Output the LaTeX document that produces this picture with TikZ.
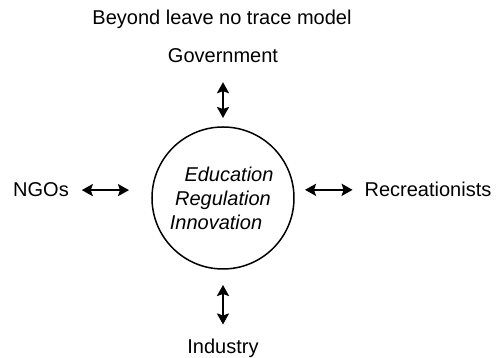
\documentclass[tikz,border=0pt]{standalone}
\usepackage{fontspec}
\setmainfont{Liberation Sans}
\usetikzlibrary{arrows.meta}
\tikzset{
	actor/.style = {inner sep=0pt, outer sep=0pt, anchor=base,
		font=\fontsize{10}{12}\selectfont},% groupe autour du centre
	hub/.style = {circle, draw=black, line width=0.75pt, inner sep=0pt,
		outer sep=0pt, minimum size=71pt},% cercle central
	theme/.style = {actor, font=\fontsize{10}{12}\selectfont\itshape},% texte du cercle
	link/.style = {<->, line width=1.2pt}% fleche double
}

\begin{document}
\begin{tikzpicture}[x=0.5pt,y=0.5pt,>={Stealth[length=5.5pt,width=6pt,inset=1pt]}]
\useasboundingbox (0,0) rectangle (500,358);
\node [hub] (hub) at (223,160) {};
\node [theme] (edu) at (229,176) {Education};
\node [theme] (reg) at (223,152) {Regulation};
\node [theme] (inn) at (216,128) {Innovation};
\node [actor] (title) at (222,333) {Beyond leave no trace model};
\node [actor] (gov) at (223,295) {Government};
\node [actor] (ind) at (223,4) {Industry};
\node [actor] (ngo) at (41,161) {NGOs};
\node [actor] (rec) at (428,161) {Recreationists};
\draw [link, shorten <=9.5pt, shorten >=4.5pt] (gov.south) -- (hub.north);
\draw [link, shorten <=8pt, shorten >=7.5pt] (hub.south) -- (ind.north);
\draw [link, shorten <=6.5pt, shorten >=11.5pt] (ngo.east) -- (ngo.east -| hub.west);
\draw [link, shorten <=5.5pt, shorten >=6pt] (rec.west -| hub.east) -- (rec.west);
\end{tikzpicture}
\end{document}
